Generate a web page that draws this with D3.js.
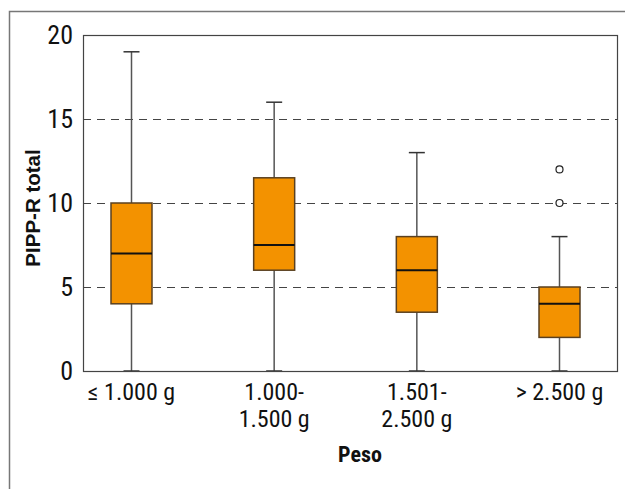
<!DOCTYPE html>
<html>
<head>
<meta charset="utf-8">
<script src="https://cdn.jsdelivr.net/npm/d3@7"></script>
<style>
  body { margin: 0; background: #fff; }
  text { font-family: "Liberation Sans Narrow", "Roboto Condensed", "Liberation Sans", sans-serif; }
  .wide { font-family: "Liberation Sans", Arial, sans-serif; }
</style>
</head>
<body>
<svg id="chart" width="625" height="489"></svg>
<script>
(function() {
    var width = 625, height = 489

    // data
    var categories = [["\u2264 1.000 g"], ["1.000-", "1.500 g"], ["1.501-", "2.500 g"], ["> 2.500 g"]]
    var mins    = [0, 0, 0, 0]
    var q1s     = [4, 6, 3.5, 2]
    var medians = [7, 7.5, 6, 4]
    var q3s     = [10, 11.5, 8, 5]
    var maxs    = [19, 16, 13, 8]
    var outliers = [[], [], [], [10, 12]]
    var yTicks = [0, 5, 10, 15, 20]

    var plot = { left: 83, right: 617, top: 35, bottom: 371 }

    var svg = d3.select("#chart")

    // outer frame (only top and left show)
    svg.append("path")
        .attr("d", "M9.5," + height + "V11.5H" + width)
        .attr("fill", "none").attr("stroke", "#777").attr("stroke-width", 1.5)

    var x = d3.scalePoint().domain(d3.range(categories.length)).range([131.5, 559.5])
    var y = d3.scaleLinear().domain([0, 20]).range([plot.bottom, plot.top])

    // dashed grid
    svg.append("g").selectAll("line")
        .data(yTicks.filter(d => d > 0 && d < 20))
        .join("line")
        .attr("x1", plot.left).attr("x2", plot.right)
        .attr("y1", d => Math.round(y(d)) + 0.5).attr("y2", d => Math.round(y(d)) + 0.5)
        .attr("stroke", "#444").attr("stroke-width", 1).attr("stroke-dasharray", "8,6")

    // y tick labels
    svg.append("g").selectAll("text")
        .data(yTicks)
        .join("text")
        .attr("x", 73).attr("y", d => y(d) + 9)
        .attr("text-anchor", "end")
        .attr("font-size", 26).attr("fill", "#111")
        .text(d => d)

    var boxW = 41, capW = 16
    var groups = svg.append("g").selectAll("g")
        .data(d3.range(categories.length))
        .join("g")

    // whiskers
    groups.append("line")
        .attr("x1", i => x(i)).attr("x2", i => x(i))
        .attr("y1", i => y(mins[i])).attr("y2", i => y(maxs[i]))
        .attr("stroke", "#555").attr("stroke-width", 1.5)
    groups.append("line")
        .attr("x1", i => x(i) - capW / 2).attr("x2", i => x(i) + capW / 2)
        .attr("y1", i => y(maxs[i])).attr("y2", i => y(maxs[i]))
        .attr("stroke", "#333").attr("stroke-width", 1.5)
    groups.append("line")
        .attr("x1", i => x(i) - capW / 2).attr("x2", i => x(i) + capW / 2)
        .attr("y1", i => y(mins[i])).attr("y2", i => y(mins[i]))
        .attr("stroke", "#333").attr("stroke-width", 1.5)

    // boxes
    groups.append("rect")
        .attr("x", i => x(i) - boxW / 2).attr("width", boxW)
        .attr("y", i => y(q3s[i])).attr("height", i => y(q1s[i]) - y(q3s[i]))
        .attr("fill", "#F39200").attr("stroke", "#5a4020").attr("stroke-width", 1.5)
    groups.append("line")
        .attr("x1", i => x(i) - boxW / 2).attr("x2", i => x(i) + boxW / 2)
        .attr("y1", i => y(medians[i])).attr("y2", i => y(medians[i]))
        .attr("stroke", "#111").attr("stroke-width", 2)

    // outliers
    groups.selectAll("circle")
        .data(i => outliers[i].map(v => [i, v]))
        .join("circle")
        .attr("cx", d => x(d[0])).attr("cy", d => y(d[1])).attr("r", 3.5)
        .attr("fill", "#fff").attr("stroke", "#222").attr("stroke-width", 1.2)

    // plot frame
    svg.append("rect")
        .attr("x", plot.left + 0.5).attr("y", plot.top + 0.5)
        .attr("width", plot.right - plot.left).attr("height", plot.bottom - plot.top)
        .attr("fill", "none").attr("stroke", "#444").attr("stroke-width", 1.2)

    // x tick labels
    var xl = svg.append("g").selectAll("text")
        .data(d3.range(categories.length))
        .join("text")
        .attr("text-anchor", "middle")
        .attr("font-size", 24).attr("fill", "#111")
    xl.selectAll("tspan")
        .data(i => categories[i].map(s => [i, s]))
        .join("tspan")
        .attr("x", d => x(d[0]))
        .attr("y", (d, j) => 400 + j * 27)
        .text(d => d[1])

    // axis titles
    svg.append("text")
        .attr("x", 360).attr("y", 462)
        .attr("text-anchor", "middle")
        .attr("font-size", 22).attr("font-weight", "bold").attr("fill", "#111")
        .text("Peso")
    svg.append("text")
        .attr("class", "wide")
        .attr("transform", "translate(40," + 208 + ") rotate(-90)")
        .attr("text-anchor", "middle")
        .attr("font-size", 20.5).attr("font-weight", "bold").attr("fill", "#111")
        .text("PIPP-R total")
})();
</script>
</body>
</html>
